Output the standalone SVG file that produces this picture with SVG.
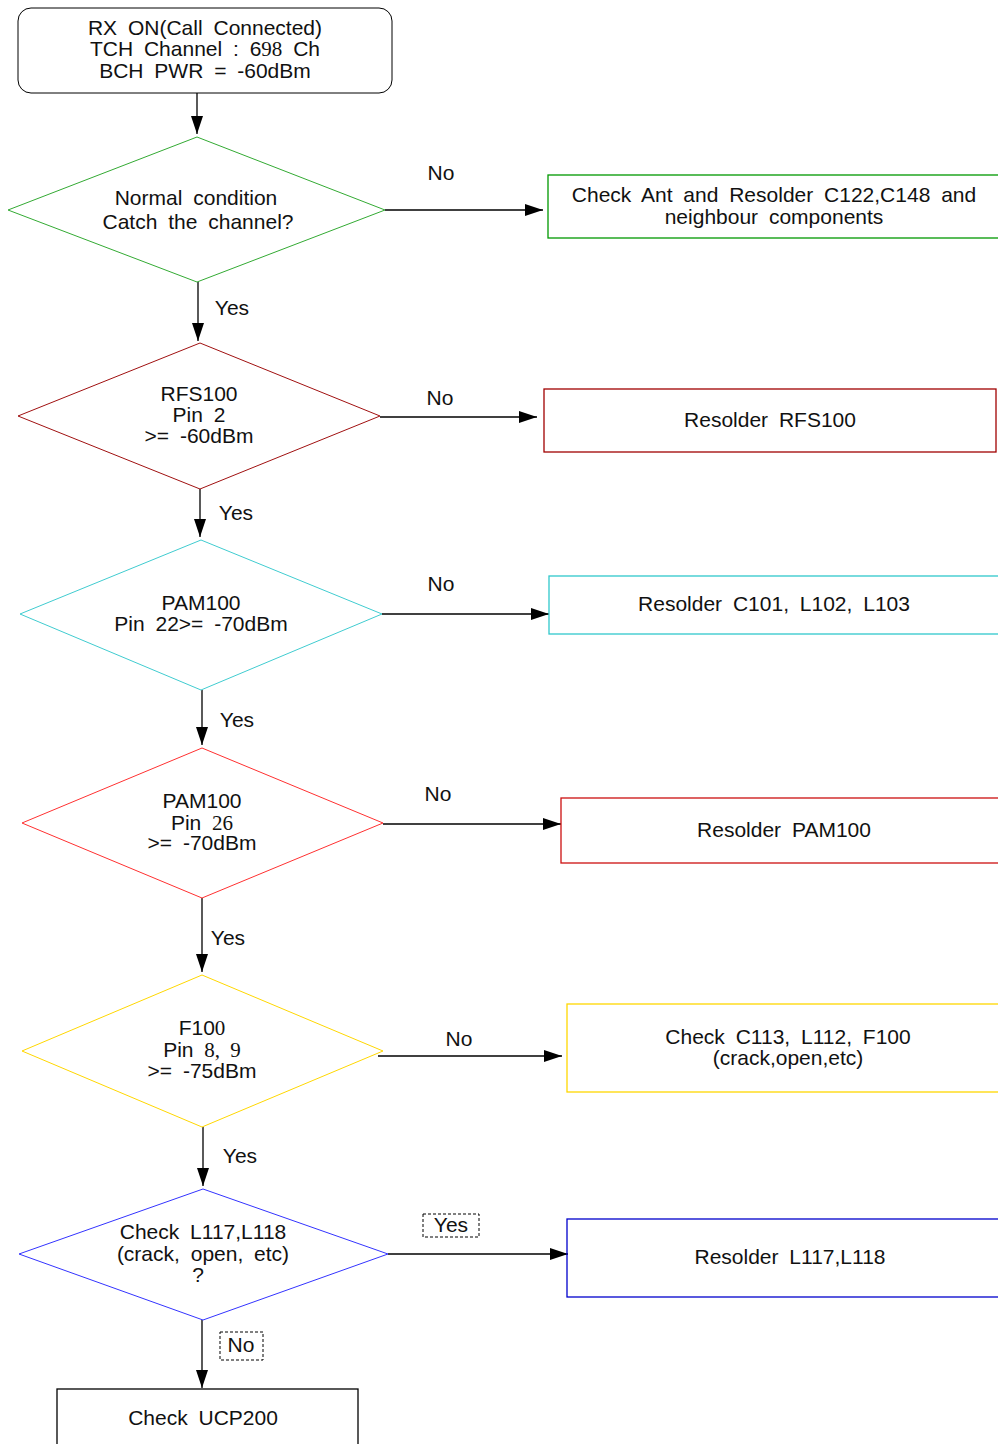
<svg xmlns="http://www.w3.org/2000/svg" width="998" height="1444" viewBox="0 0 998 1444">
<defs>
<marker id="ah" markerWidth="18" markerHeight="12" refX="18" refY="6" orient="auto" markerUnits="userSpaceOnUse">
<path d="M0,0 L18,6 L0,12 z" fill="#000"/>
</marker>
<style>
text{font-family:"Liberation Sans",Arial,sans-serif;font-size:21px;fill:#111;text-anchor:middle;word-spacing:5px}
.s{font-family:"Liberation Serif","Times New Roman",serif}
.c{stroke:#000;stroke-width:1.3;fill:none;marker-end:url(#ah)}
.dash{fill:none;stroke:#000;stroke-width:1;stroke-dasharray:3,2}
</style>
</defs>
<rect width="998" height="1444" fill="#fff"/>

<g id="connectors">
<line class="c" x1="197" y1="93" x2="197" y2="134"/>
<line class="c" x1="385" y1="210" x2="543" y2="210"/>
<line class="c" x1="198" y1="282" x2="198" y2="341"/>
<line class="c" x1="380" y1="417" x2="537" y2="417"/>
<line class="c" x1="200" y1="489" x2="200" y2="537"/>
<line class="c" x1="382" y1="614" x2="549" y2="614"/>
<line class="c" x1="202" y1="690" x2="202" y2="745"/>
<line class="c" x1="383" y1="824" x2="561" y2="824"/>
<line class="c" x1="202" y1="898" x2="202" y2="972"/>
<line class="c" x1="378" y1="1056" x2="562" y2="1056"/>
<line class="c" x1="203" y1="1127" x2="203" y2="1186"/>
<line class="c" x1="388" y1="1254" x2="568" y2="1254"/>
<line class="c" x1="202" y1="1320" x2="202" y2="1388"/>
<text x="441" y="180">No</text>
<text x="232" y="315">Yes</text>
<text x="440" y="405">No</text>
<text x="236" y="520">Yes</text>
<text x="441" y="591">No</text>
<text x="237" y="727">Yes</text>
<text x="438" y="801">No</text>
<text x="228" y="945">Yes</text>
<text x="459" y="1046">No</text>
<text x="240" y="1163">Yes</text>
<rect class="dash" x="423" y="1214" width="56" height="23"/>
<text x="451" y="1232">Yes</text>
<rect class="dash" x="220" y="1332" width="43" height="28"/>
<text x="241" y="1352">No</text>
</g>

<g id="start">
<rect x="18" y="8" width="374" height="85" rx="13" fill="none" stroke="#000" stroke-width="1"/>
<text x="205" y="35">RX ON(Call Connected)</text>
<text x="205" y="56">TCH Channel : 6<tspan class="s">98</tspan> Ch</text>
<text x="205" y="78">BCH PWR = -60dBm</text>
</g>

<g id="d1">
<polygon points="197,137 385,210 197,282 8,210" fill="none" stroke="#33AA33" stroke-width="1"/>
<text x="196" y="205">Normal condition</text>
<text x="198" y="229">Catch the channel?</text>
</g>
<g id="b1">
<rect x="548" y="175" width="470" height="63" fill="none" stroke="#009900" stroke-width="1.3"/>
<text x="774" y="202">Check Ant and Resolder C122,C148 and</text>
<text x="774" y="224">neighbour components</text>
</g>

<g id="d2">
<polygon points="200,343 380,416 200,489 18,416" fill="none" stroke="#A01010" stroke-width="1"/>
<text x="199" y="401">RFS100</text>
<text x="199" y="422">Pin 2</text>
<text x="199" y="443">&gt;= -60dBm</text>
</g>
<g id="b2">
<rect x="544" y="389" width="452" height="63" fill="none" stroke="#A00000" stroke-width="1.3"/>
<text x="770" y="427">Resolder RFS100</text>
</g>

<g id="d3">
<polygon points="201,540 382,614 201,690 20,614" fill="none" stroke="#40CCD0" stroke-width="1"/>
<text x="201" y="610">PAM100</text>
<text x="201" y="631">Pin 22&gt;= -70dBm</text>
</g>
<g id="b3">
<rect x="549" y="576" width="470" height="58" fill="none" stroke="#30C8CC" stroke-width="1.3"/>
<text x="774" y="611">Resolder C101, L102, L103</text>
</g>

<g id="d4">
<polygon points="202,748 383,823 202,898 22,823" fill="none" stroke="#FF3030" stroke-width="1"/>
<text x="202" y="808">PAM100</text>
<text x="202" y="830">Pin <tspan class="s">26</tspan></text>
<text x="202" y="850">&gt;= -70dBm</text>
</g>
<g id="b4">
<rect x="561" y="798" width="460" height="65" fill="none" stroke="#CC1010" stroke-width="1.3"/>
<text x="784" y="837">Resolder PAM100</text>
</g>

<g id="d5">
<polygon points="202,975 383,1051 202,1127 22,1051" fill="none" stroke="#FFD700" stroke-width="1"/>
<text x="202" y="1035">F10<tspan class="s">0</tspan></text>
<text x="202" y="1057">Pin <tspan class="s">8, 9</tspan></text>
<text x="202" y="1078">&gt;= -75dBm</text>
</g>
<g id="b5">
<rect x="567" y="1004" width="460" height="88" fill="none" stroke="#FFD700" stroke-width="1.3"/>
<text x="788" y="1044">Check C113, L112, F100</text>
<text x="788" y="1065">(crack,open,etc)</text>
</g>

<g id="d6">
<polygon points="203,1189 388,1254 203,1320 19,1254" fill="none" stroke="#3333FF" stroke-width="1"/>
<text x="203" y="1239">Check L117,L118</text>
<text x="203" y="1261">(crack, open, etc)</text>
<text x="198" y="1282">?</text>
</g>
<g id="b6">
<rect x="567" y="1219" width="460" height="78" fill="none" stroke="#0000CC" stroke-width="1.3"/>
<text x="790" y="1264">Resolder L117,L118</text>
</g>

<g id="b7">
<rect x="57" y="1389" width="301" height="80" fill="none" stroke="#000" stroke-width="1.3"/>
<text x="203" y="1425">Check UCP200</text>
</g>
</svg>
